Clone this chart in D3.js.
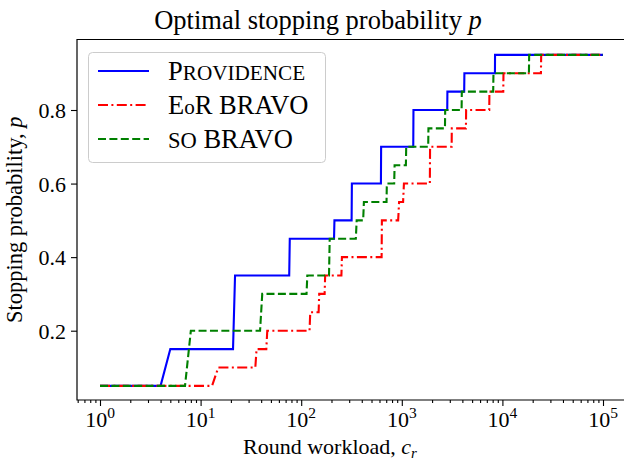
<!DOCTYPE html>
<html>
<head>
<meta charset="utf-8">
<script src="https://cdn.jsdelivr.net/npm/d3@7"></script>
<style>
  html, body { margin: 0; padding: 0; background: #fff; }
  svg { display: block; }
  text { font-family: "Liberation Serif", "Times New Roman", serif; fill: #000; }
</style>
</head>
<body>
<svg id="chart" width="624" height="462"></svg>
<script>
// ---------------- data ----------------
const seriesNames = ["Providence", "EoR BRAVO", "SO BRAVO"];

const workloadProvidence = [1, 4, 5, 21, 22, 76, 77, 212, 214, 317, 319, 620, 623, 1300, 1306, 2830, 2840, 4170, 4190, 8430, 8450, 100000];
const probProvidence     = [0.05, 0.05, 0.15, 0.15, 0.35, 0.35, 0.45, 0.45, 0.5, 0.5, 0.6, 0.6, 0.7, 0.7, 0.8, 0.8, 0.85, 0.85, 0.9, 0.9, 0.95, 0.95];

const workloadEoR = [1, 13, 15, 35, 36, 45, 46, 121, 123, 149, 151, 171, 173, 251, 254, 630, 634, 920, 940, 1030, 1050, 1900, 1910, 3130, 3140, 4340, 4360, 7400, 7430, 10200, 10250, 24150, 24300, 100000];
const probEoR     = [0.05, 0.05, 0.1, 0.1, 0.15, 0.15, 0.2, 0.2, 0.25, 0.25, 0.3, 0.3, 0.35, 0.35, 0.4, 0.4, 0.5, 0.5, 0.55, 0.55, 0.6, 0.6, 0.7, 0.7, 0.75, 0.75, 0.8, 0.8, 0.85, 0.85, 0.9, 0.9, 0.95, 0.95];

const workloadSO = [1, 7, 8, 39, 41, 113, 115, 189, 192, 349, 356, 413, 420, 705, 710, 840, 848, 1098, 1106, 1830, 1840, 2685, 2700, 3930, 3950, 8100, 8150, 18350, 18450, 100000];
const probSO     = [0.05, 0.05, 0.2, 0.2, 0.3, 0.3, 0.35, 0.35, 0.45, 0.45, 0.5, 0.5, 0.55, 0.55, 0.6, 0.6, 0.65, 0.65, 0.7, 0.7, 0.75, 0.75, 0.8, 0.8, 0.85, 0.85, 0.9, 0.9, 0.95, 0.95];

const xTickExponents = [0, 1, 2, 3, 4, 5];
const yTickValues = [0.2, 0.4, 0.6, 0.8];

const titleText = "Optimal stopping probability ";
const xLabelText = "Round workload, ";
const yLabelText = "Stopping probability, ";

// ---------------- layout ----------------
const svg = d3.select("#chart");
const frame = { left: 77, right: 626, top: 39.5, bottom: 400 };

const x = d3.scaleLog().domain([1, 1e5]).range([100, 603]);
const y = d3.scaleLinear().domain([0.2, 0.8]).range([330.7, 110]);

const styles = [
  { color: "#0000ff", dash: null },
  { color: "#ff0000", dash: "10,3.4,2,3.4" },
  { color: "#008000", dash: "8,3.4" }
];

const series = [
  { name: seriesNames[0], c: workloadProvidence, p: probProvidence },
  { name: seriesNames[1], c: workloadEoR, p: probEoR },
  { name: seriesNames[2], c: workloadSO, p: probSO }
];

// ---------------- axes ----------------
const majors = xTickExponents.map(e => Math.pow(10, e));
const minors = [];
for (let e = -1; e <= 5; e++) for (let m = 2; m <= 9; m++) {
  const v = m * Math.pow(10, e);
  const px = x(v);
  if (px > frame.left && px < 624) minors.push(v);
}

const gx = svg.append("g").attr("transform", `translate(0,${frame.bottom})`);
gx.call(d3.axisBottom(x).tickValues(majors).tickSize(6).tickFormat(""));
gx.append("g").call(d3.axisBottom(x).tickValues(minors).tickSize(3).tickFormat(""));
gx.selectAll(".domain").remove();
gx.selectAll("line").attr("stroke", "#000").attr("stroke-width", 1.1);

xTickExponents.forEach(e => {
  const t = gx.append("text")
    .attr("x", x(Math.pow(10, e)))
    .attr("y", 27)
    .attr("text-anchor", "middle")
    .attr("font-size", 22);
  t.append("tspan").text("10");
  t.append("tspan").attr("font-size", 15.5).attr("dy", -9).text(String(e));
});

const gy = svg.append("g").attr("transform", `translate(${frame.left},0)`);
gy.call(d3.axisLeft(y).tickValues(yTickValues).tickSize(6).tickPadding(5).tickFormat(d3.format(".1f")));
gy.selectAll(".domain").remove();
gy.selectAll("line").attr("stroke", "#000").attr("stroke-width", 1.1);
gy.selectAll("text").attr("font-size", 22).attr("font-family", "Liberation Serif, serif").attr("dy", "0.34em");

// frame (right spine lies outside the picture)
svg.append("path")
  .attr("d", `M${frame.right},${frame.top}H${frame.left}V${frame.bottom}H${frame.right}`)
  .attr("fill", "none").attr("stroke", "#000").attr("stroke-width", 1.2);

// ---------------- lines ----------------
const line = d3.line().x(d => x(d[0])).y(d => y(d[1]));
series.forEach((s, i) => {
  const pts = s.c.map((c, j) => [c, s.p[j]]);
  svg.append("path")
    .datum(pts)
    .attr("d", line)
    .attr("fill", "none")
    .attr("stroke", styles[i].color)
    .attr("stroke-width", 2.1)
    .attr("stroke-linejoin", "miter")
    .attr("stroke-dasharray", styles[i].dash);
});

// ---------------- title & labels ----------------
const title = svg.append("text").attr("x", 318).attr("y", 29).attr("text-anchor", "middle").attr("font-size", 26.5);
title.append("tspan").text(titleText);
title.append("tspan").attr("font-style", "italic").text("p");

const xl = svg.append("text").attr("x", 330).attr("y", 454).attr("text-anchor", "middle").attr("font-size", 22);
xl.append("tspan").text(xLabelText);
xl.append("tspan").attr("font-style", "italic").text("c");
xl.append("tspan").attr("font-style", "italic").attr("font-size", 15).attr("dy", 4).text("r");

const yl = svg.append("text").attr("transform", `translate(22,${(frame.top + frame.bottom) / 2}) rotate(-90)`)
  .attr("text-anchor", "middle").attr("font-size", 22.5);
yl.append("tspan").text(yLabelText);
yl.append("tspan").attr("font-style", "italic").text("p");

// ---------------- legend ----------------
const lg = svg.append("g");
lg.append("rect").attr("x", 88.5).attr("y", 52.5).attr("width", 237).attr("height", 110)
  .attr("rx", 4).attr("fill", "#fff").attr("fill-opacity", 0.8).attr("stroke", "#cccccc").attr("stroke-width", 1);
const rowY = [71, 105, 139];
series.forEach((s, i) => {
  lg.append("line").attr("x1", 98).attr("x2", 149).attr("y1", rowY[i]).attr("y2", rowY[i])
    .attr("stroke", styles[i].color).attr("stroke-width", 2.1).attr("stroke-dasharray", styles[i].dash);
});
const fs = 26.5;
const t0 = lg.append("text").attr("x", 168).attr("y", rowY[0] + 8.5).attr("font-size", fs);
t0.append("tspan").text("P");
t0.append("tspan").attr("font-size", fs * 0.8).text("ROVIDENCE");
const t1 = lg.append("text").attr("x", 168).attr("y", rowY[1] + 8.5).attr("font-size", fs);
t1.append("tspan").text("E");
t1.append("tspan").attr("font-size", fs * 0.8).text("o");
t1.append("tspan").text("R BRAVO");
const t2 = lg.append("text").attr("x", 168).attr("y", rowY[2] + 8.5).attr("font-size", fs);
t2.append("tspan").attr("font-size", fs * 0.85).text("SO");
t2.append("tspan").text(" BRAVO");
</script>
</body>
</html>
